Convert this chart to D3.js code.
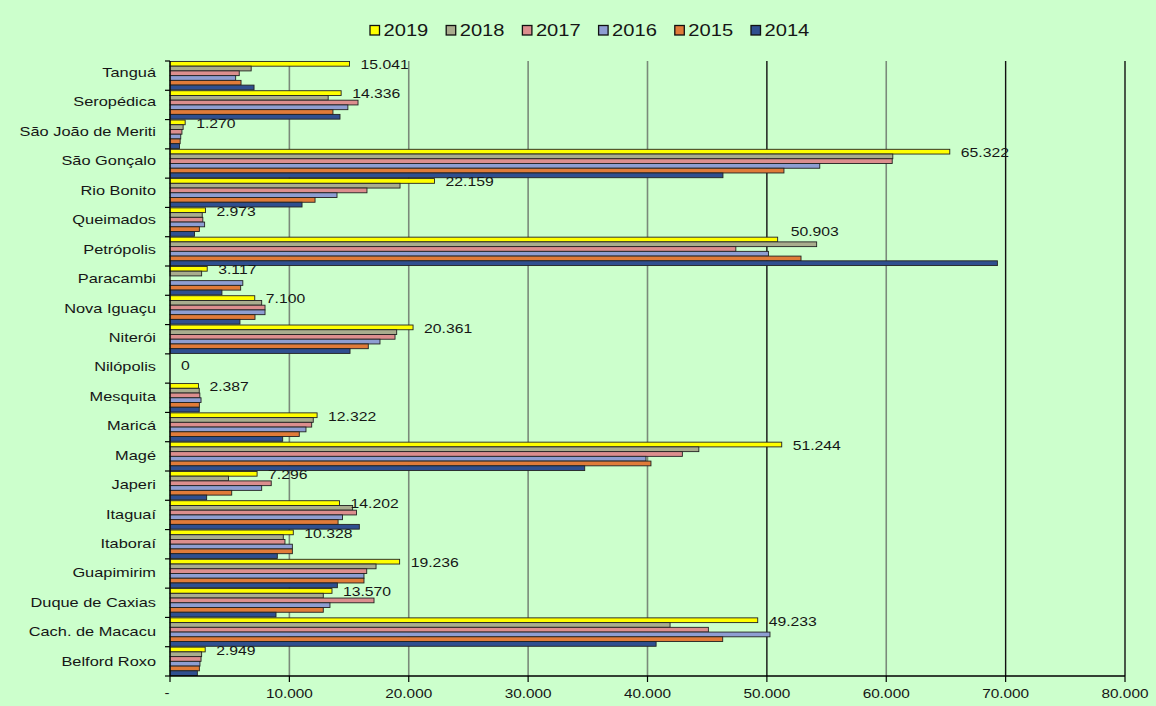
<!DOCTYPE html>
<html><head><meta charset="utf-8">
<script src="https://cdn.jsdelivr.net/npm/d3@7"></script>
<style>
html,body{margin:0;padding:0;background:#CCFFCC;}
svg{display:block;font-family:"Liberation Sans",Arial,sans-serif;}
</style></head>
<body>
<svg id="chart" width="1156" height="706"></svg>
<script>
const categories = ["Tanguá","Seropédica","São João de Meriti","São Gonçalo","Rio Bonito","Queimados","Petrópolis","Paracambi","Nova Iguaçu","Niterói","Nilópolis","Mesquita","Maricá","Magé","Japeri","Itaguaí","Itaboraí","Guapimirim","Duque de Caxias","Cach. de Macacu","Belford Roxo"];
const years = ["2019","2018","2017","2016","2015","2014"];
const v2019 = [15041,14336,1270,65322,22159,2973,50903,3117,7100,20361,0,2387,12322,51244,7296,14202,10328,19236,13570,49233,2949];
const v2018 = [6800,13250,1100,60550,19270,2700,54170,2650,7680,18990,0,2450,12000,44300,4900,15300,9490,17260,12840,41890,2650];
const v2017 = [5800,15750,1000,60500,16500,2750,47400,0,7960,18850,0,2500,11870,42920,8480,15620,9630,16480,17090,45100,2600];
const v2016 = [5500,14900,900,54430,13990,2900,50130,6100,7960,17590,0,2600,11390,39870,7680,14450,10250,16250,13400,50260,2510];
const v2015 = [5950,13650,850,51430,12150,2460,52860,5920,7120,16610,0,2460,10830,40290,5170,14080,10250,16250,12840,46300,2460];
const v2014 = [7040,14240,800,46320,11060,2050,69310,4350,5860,15080,0,2450,9440,34740,3070,15860,8990,14020,8880,40720,2290];
const xTicks = [0,10000,20000,30000,40000,50000,60000,70000,80000];
const colors = ["#FFFF00","#A9AD8E","#DC8E8E","#8E9ED2","#E07B39","#2F4F8F"];

const series = [v2019,v2018,v2017,v2016,v2015,v2014];
const fmt = v => v === 0 ? "-" : d3.format(",")(v).replace(/,/g,".");
const SX = 1.26;

const svg = d3.select("#chart");
const pL = 170, pR = 1125, pT = 61, pB = 676;

const x = d3.scaleLinear().domain([0,80000]).range([pL,pR]);
const y = d3.scaleBand().domain(categories).range([pT,pB]).paddingInner(0.03).paddingOuter(0.015);
const yInner = d3.scaleBand().domain(years).range([0,y.bandwidth()]);

function stretchedText(sel, px, py, txt, size, anchor){
  return sel.append("text")
    .attr("transform",`translate(${px},${py}) scale(${SX},1)`)
    .attr("font-size",size)
    .attr("text-anchor",anchor)
    .attr("dominant-baseline","central")
    .attr("fill","#161616")
    .text(txt);
}

// gridlines
const grid = svg.append("g");
xTicks.slice(1).forEach(t=>{
  const dark = (t===50000||t===70000||t===80000);
  grid.append("line").attr("x1",x(t)).attr("x2",x(t)).attr("y1",pT).attr("y2",pB)
    .attr("stroke",dark?"#111":"#7a8a7a").attr("stroke-width",dark?1.4:1.6);
});

// bars
const bars = svg.append("g");
categories.forEach((c,i)=>{
  years.forEach((yr,j)=>{
    const v = series[j][i];
    if(v<=0) return;
    bars.append("rect")
      .attr("x",x(0)).attr("y",y(c)+yInner(yr))
      .attr("width",x(v)-x(0)).attr("height",yInner.bandwidth())
      .attr("fill",colors[j]).attr("stroke","#222").attr("stroke-width",0.9);
  });
});

// axes
const ax = svg.append("g");
ax.append("line").attr("x1",pL).attr("x2",pL).attr("y1",pT).attr("y2",pB).attr("stroke","#000").attr("stroke-width",1.3);
ax.append("line").attr("x1",pL).attr("x2",pR).attr("y1",pB).attr("y2",pB).attr("stroke","#000").attr("stroke-width",1.3);
for(let k=0;k<=categories.length;k++){
  const yy = pT + k*(pB-pT)/categories.length;
  ax.append("line").attr("x1",pL-5).attr("x2",pL).attr("y1",yy).attr("y2",yy).attr("stroke","#000").attr("stroke-width",1.2);
}
xTicks.forEach(t=>{
  ax.append("line").attr("x1",x(t)).attr("x2",x(t)).attr("y1",pB).attr("y2",pB+6).attr("stroke","#000").attr("stroke-width",1.2);
  if(t===0) stretchedText(ax, x(t)-3, pB+17, "-", 12, "middle");
  else stretchedText(ax, x(t), pB+18, fmt(t), 12.2, "middle");
});

// category labels
const n = categories.length;
categories.forEach((c,i)=>{
  const shift = -3*(1 - i/(n-1));
  stretchedText(svg, 156, y(c)+y.bandwidth()/2+shift, c, 13, "end");
});

// data labels for 2019
categories.forEach((c,i)=>{
  const v = v2019[i];
  let yy = y(c)+yInner("2019")+yInner.bandwidth()/2+1;
  let xx = x(v)+11;
  if(v===0) yy = y(c)+11;
  if(c==="Petrópolis"){ yy -= 9; xx += 2; }
  stretchedText(svg, xx, yy, v===0?"0":fmt(v), 12.5, "start");
});

// legend
const lg = svg.append("g");
years.forEach((yr,j)=>{
  const lx = 370 + j*76.2;
  lg.append("rect").attr("x",lx).attr("y",25.5).attr("width",9.5).attr("height",9.5)
    .attr("fill",colors[j]).attr("stroke","#111").attr("stroke-width",1.3);
  stretchedText(lg, lx+13.5, 30.5, yr, 16, "start");
});
</script>
</body></html>
